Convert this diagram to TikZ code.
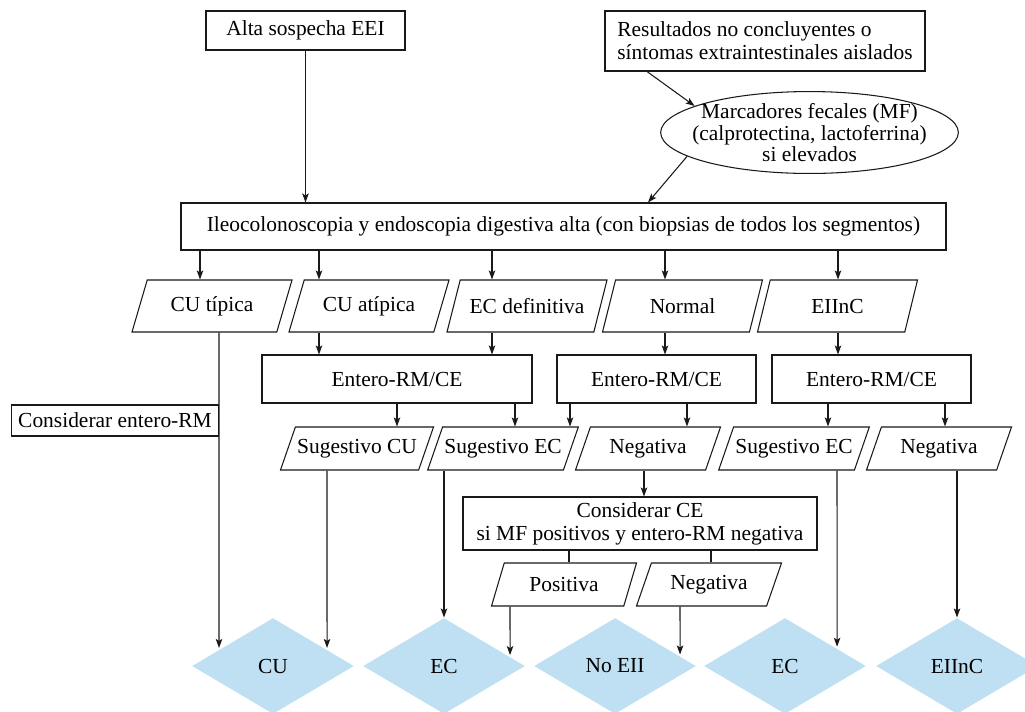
\documentclass[tikz,border=0pt]{standalone}
\usepackage{fontspec}
\setmainfont{Liberation Serif}
\usetikzlibrary{shapes.geometric,arrows.meta}
\definecolor{celeste}{HTML}{BEE0F2}

\begin{document}
\begin{tikzpicture}[
    font=\fontsize{12.2}{13}\selectfont,
    line width=0.6pt,
    proceso/.style={rectangle, draw=black!90, text centered, inner sep=2pt},
    marcador/.style={ellipse, draw=black!90, align=center, inner xsep=-0.24cm,
        inner ysep=0pt, font=\fontsize{12.2}{10.6}\selectfont,
        minimum width=5.86cm, minimum height=1.58cm},
    resultado/.style={trapezium, draw=black!90, trapezium left angle=64,
        trapezium right angle=116, trapezium stretches body, inner xsep=1pt,
        text centered, minimum width=2.9cm, minimum height=0.86cm},
    hallazgo/.style={resultado, minimum width=3.2cm, minimum height=1.04cm},
    diagnostico/.style={diamond, fill=celeste, inner sep=0pt,
        minimum width=3.24cm, minimum height=1.92cm},
    flecha/.style={draw=black!90, -{Stealth[length=1.8mm, width=1.3mm, inset=0.4mm]}},
    linea/.style={draw=black!90}
]
\useasboundingbox (0,0) rectangle (20.5,-14.22);

% entrada
\node (Sospecha) [proceso, minimum width=3.98cm, minimum height=0.78cm] at (6.11,-0.61) {Alta sospecha EEI};
\node (Resultados) [proceso, align=left, minimum width=6.4cm, minimum height=1.2cm] at (15.3,-0.82)
    {Resultados no concluyentes o\\síntomas extraintestinales aislados};
\node (Marcadores) [marcador] at (16.19,-2.65)
    {Marcadores fecales (MF)\\(calprotectina, lactoferrina)\\si elevados};
\node (Endoscopia) [proceso, minimum width=15.3cm, minimum height=0.94cm] at (11.27,-4.53)
    {Ileocolonoscopia y endoscopia digestiva alta (con biopsias de todos los segmentos)};

% hallazgos endoscopicos
\node (CUtipica) [hallazgo] at (4.24,-6.12) {CU típica};
\node (CUatipica) [hallazgo] at (7.38,-6.12) {CU atípica};
\node (ECdefinitiva) [hallazgo] at (10.54,-6.12) {EC definitiva};
\node (Normal) [hallazgo] at (13.65,-6.12) {Normal};
\node (EIInC) [hallazgo] at (16.75,-6.12) {EIInC};

\node (Entero01) [proceso, minimum width=5.4cm, minimum height=0.96cm] at (7.94,-7.58) {Entero-RM/CE};
\node (Entero02) [proceso, minimum width=3.98cm, minimum height=0.96cm] at (13.13,-7.58) {Entero-RM/CE};
\node (Entero03) [proceso, minimum width=3.98cm, minimum height=0.96cm] at (17.43,-7.58) {Entero-RM/CE};
\node (ConsiderarRM) [proceso, anchor=east, minimum width=4.14cm, minimum height=0.62cm] at (4.38,-8.41) {Considerar entero-RM};

\node (SugestivoCU) [resultado] at (7.14,-8.97) {Sugestivo CU};
\node (SugestivoEC01) [resultado] at (10.06,-8.97) {Sugestivo EC};
\node (Negativa01) [resultado] at (12.96,-8.97) {Negativa};
\node (SugestivoEC02) [resultado] at (15.88,-8.97) {Sugestivo EC};
\node (Negativa02) [resultado] at (18.78,-8.97) {Negativa};

\node (ConsiderarCE) [proceso, align=center, minimum width=7.08cm, minimum height=1.06cm] at (12.8,-10.47)
    {Considerar CE\\si MF positivos y entero-RM negativa};
\node (Positiva) [resultado] at (11.28,-11.69) {Positiva};
\node (Negativa03) [resultado] at (14.18,-11.69) {Negativa};

% diagnosticos
\node (CU) [diagnostico] at (5.46,-13.32) {CU};
\node (ECa) [diagnostico] at (8.88,-13.32) {EC};
\node (NoEII) [diagnostico] at (12.3,-13.32) {No EII};
\node (ECb) [diagnostico] at (15.7,-13.32) {EC};
\node (EIInCfinal) [diagnostico] at (19.14,-13.32) {EIInC};

\draw[flecha] (Sospecha.south) -- (Sospecha.south |- Endoscopia.north);
\draw[flecha] (Resultados.south -| 12.94,0) -- (Marcadores.167);
\draw[flecha] (Marcadores.191) -- (Endoscopia.north -| 12.96,0);

\draw[flecha] (Endoscopia.south -| 4,0) -- (CUtipica.north -| 4,0);
\draw[flecha] (Endoscopia.south -| 6.38,0) -- (CUatipica.north -| 6.38,0);
\draw[flecha] (Endoscopia.south -| 9.84,0) -- (ECdefinitiva.north -| 9.84,0);
\draw[flecha] (Endoscopia.south -| 13.3,0) -- (Normal.north -| 13.3,0);
\draw[flecha] (Endoscopia.south -| 16.76,0) -- (EIInC.north -| 16.76,0);

\draw[flecha] (CUatipica.south -| 6.38,0) -- (Entero01.north -| 6.38,0);
\draw[flecha] (ECdefinitiva.south -| 9.84,0) -- (Entero01.north -| 9.84,0);
\draw[flecha] (Normal.south -| 13.3,0) -- (Entero02.north -| 13.3,0);
\draw[flecha] (EIInC.south -| 16.76,0) -- (Entero03.north -| 16.76,0);

\draw[flecha] (Entero01.south -| 7.94,0) -- (SugestivoCU.north -| 7.94,0);
\draw[flecha] (Entero01.south -| 10.3,0) -- (SugestivoEC01.north -| 10.3,0);
\draw[flecha] (Entero02.south -| 11.4,0) -- (SugestivoEC01.north -| 11.4,0);
\draw[flecha] (Entero02.south -| 13.74,0) -- (Negativa01.north -| 13.74,0);
\draw[flecha] (Entero03.south -| 16.56,0) -- (SugestivoEC02.north -| 16.56,0);
\draw[flecha] (Entero03.south -| 18.9,0) -- (Negativa02.north -| 18.9,0);

\draw[flecha] (Negativa01.south -| 12.88,0) -- (ConsiderarCE.north -| 12.88,0);
\draw[linea] (ConsiderarCE.south -| 11.38,0) -- (Positiva.north -| 11.38,0);
\draw[linea] (ConsiderarCE.south -| 14.22,0) -- (Negativa03.north -| 14.22,0);

\draw[flecha, shorten >=1pt] (CUtipica.south -| 4.38,0) -- (intersection of 4.38,0--4.38,-1 and CU.west--CU.north);
\draw[flecha, shorten >=1pt] (SugestivoCU.south -| 6.54,0) -- (intersection of 6.54,0--6.54,-1 and CU.north--CU.east);
\draw[flecha] (SugestivoEC01.south -| 8.88,0) -- (ECa.north);
\draw[flecha, shorten >=1pt] (Positiva.south -| 10.2,0) -- (intersection of 10.2,0--10.2,-1 and ECa.north--ECa.east);
\draw[flecha, shorten >=1pt] (Negativa03.south -| 13.6,0) -- (intersection of 13.6,0--13.6,-1 and NoEII.north--NoEII.east);
\draw[flecha, shorten >=1pt] (SugestivoEC02.south -| 16.74,0) -- (intersection of 16.74,0--16.74,-1 and ECb.north--ECb.east);
\draw[flecha] (Negativa02.south -| 19.14,0) -- (EIInCfinal.north);

\end{tikzpicture}
\end{document}
